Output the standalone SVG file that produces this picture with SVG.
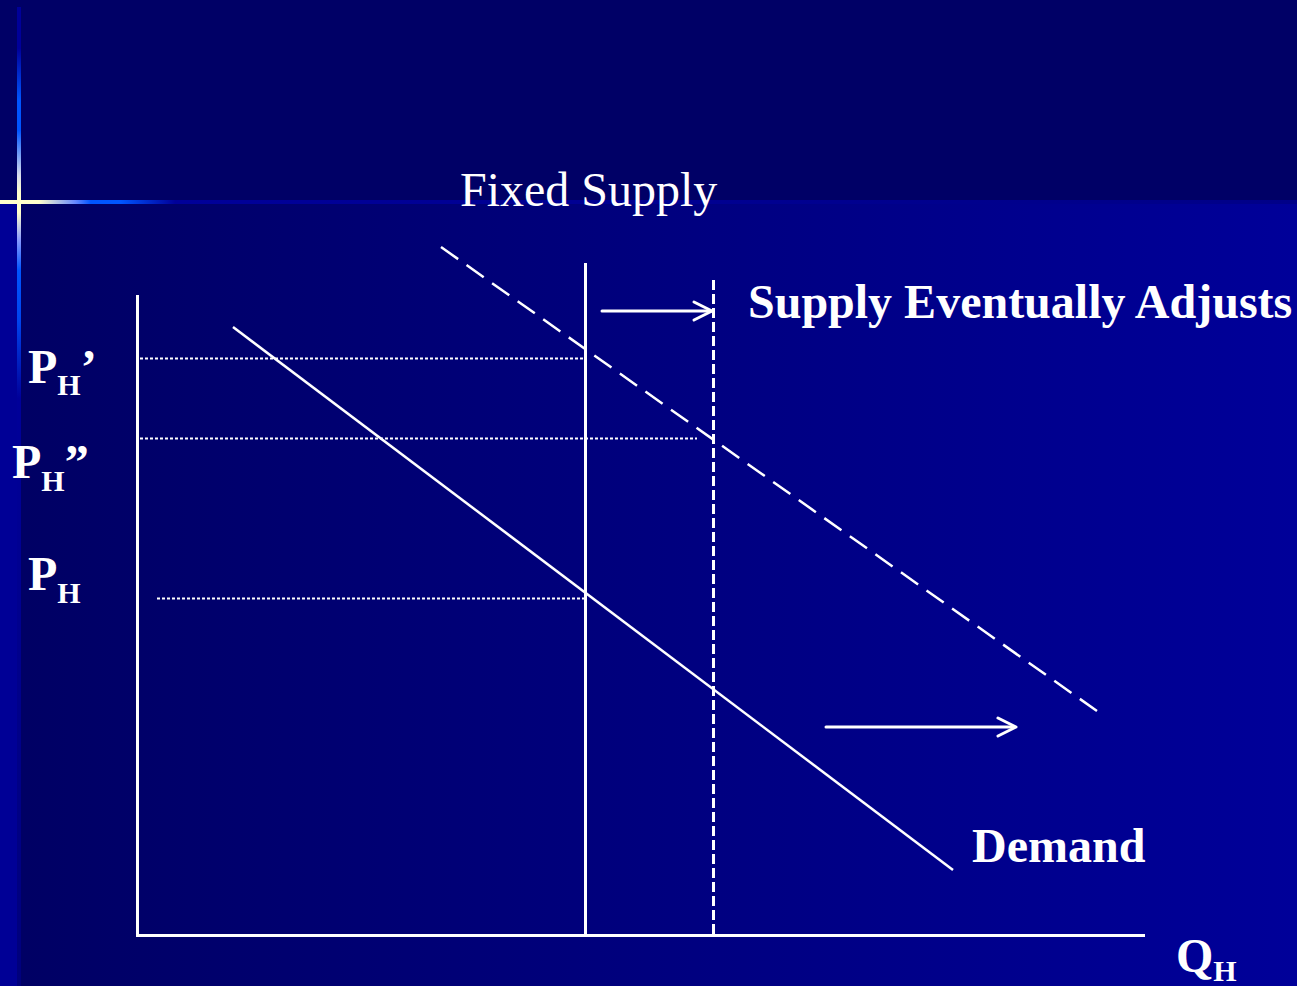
<svg xmlns="http://www.w3.org/2000/svg" width="1297" height="986" viewBox="0 0 1297 986">
  <defs>
    <linearGradient id="bodyFill" gradientUnits="userSpaceOnUse" x1="21" y1="0" x2="1297" y2="0">
      <stop offset="0" stop-color="#000064"/>
      <stop offset="1" stop-color="#000099"/>
    </linearGradient>
    <linearGradient id="vBar" gradientUnits="userSpaceOnUse" x1="0" y1="7" x2="0" y2="986">
      <stop offset="0" stop-color="#000099"/>
      <stop offset="0.042" stop-color="#000099"/>
      <stop offset="0.095" stop-color="#0055FF"/>
      <stop offset="0.126" stop-color="#0055FF"/>
      <stop offset="0.172" stop-color="#D8DCEE"/>
      <stop offset="0.19" stop-color="#FFFFCC"/>
      <stop offset="0.21" stop-color="#FFFFCC"/>
      <stop offset="0.238" stop-color="#8899FF"/>
      <stop offset="0.269" stop-color="#0055FF"/>
      <stop offset="0.32" stop-color="#0044EE"/>
      <stop offset="0.40" stop-color="#000099"/>
      <stop offset="1" stop-color="#00007C"/>
    </linearGradient>
    <linearGradient id="hBar" gradientUnits="userSpaceOnUse" x1="0" y1="0" x2="1297" y2="0">
      <stop offset="0" stop-color="#FFFFCC"/>
      <stop offset="0.03" stop-color="#FFFFCC"/>
      <stop offset="0.058" stop-color="#6688FF"/>
      <stop offset="0.07" stop-color="#0055FF"/>
      <stop offset="0.093" stop-color="#0055FF"/>
      <stop offset="0.135" stop-color="#000099"/>
      <stop offset="1" stop-color="#000088"/>
    </linearGradient>
    <style>
      .ln { stroke: #FFFFFF; fill: none; }
      .axis { stroke-width: 3; }
      .dot { stroke-width: 2.2; stroke-dasharray: 3 2; }
      .arrow { stroke-width: 3; stroke-linecap: round; stroke-linejoin: round; }
      .lbl { font-family: "Liberation Serif", "Times New Roman", serif; fill: #FFFFFF; font-size: 48px; }
      .b { font-weight: bold; }
      .sub { font-size: 30px; }
    </style>
  </defs>

  <!-- slide background -->
  <g id="background">
    <rect x="0" y="0" width="1297" height="986" fill="#000066"/>
    <rect x="21" y="202" width="1276" height="784" fill="url(#bodyFill)"/>
    <rect x="0" y="204" width="17" height="782" fill="#000096"/>
    <rect x="17" y="7" width="4" height="979" fill="url(#vBar)"/>
    <rect x="0" y="200" width="1297" height="4" fill="url(#hBar)"/>
    <rect x="17" y="200" width="4" height="4" fill="#FFFFCC"/>
  </g>

  <!-- axes -->
  <g id="axes" class="ln axis">
    <line x1="137.5" y1="295" x2="137.5" y2="936"/>
    <line x1="136" y1="935.5" x2="1145" y2="935.5"/>
  </g>

  <!-- curves and reference lines -->
  <g id="connectors" class="ln">
    <line id="fixed-supply" x1="585.5" y1="263" x2="585.5" y2="935" stroke-width="3"/>
    <line id="adjusted-supply" x1="713.5" y1="280" x2="713.5" y2="935" stroke-width="3" stroke-dasharray="10 4"/>
    <line id="demand" x1="233" y1="327" x2="953" y2="870" stroke-width="2.5"/>
    <line id="demand-shifted" x1="441" y1="247" x2="1097" y2="711" stroke-width="2.5" stroke-dasharray="21 10.3"/>
    <line class="dot" x1="140" y1="358.5" x2="585" y2="358.5"/>
    <line class="dot" x1="140" y1="438.5" x2="697" y2="438.5"/>
    <line class="dot" x1="157" y1="598.5" x2="585" y2="598.5"/>
    <g class="arrow">
      <line x1="602" y1="311" x2="711" y2="311"/>
      <polyline points="694,302 712,311 694,320"/>
      <line x1="826" y1="727" x2="1014" y2="727"/>
      <polyline points="998,718 1016,727 998,736"/>
    </g>
  </g>

  <!-- labels -->
  <g id="label-fixed-supply"><text class="lbl" x="460" y="206">Fixed Supply</text></g>
  <g id="label-supply-adjusts"><text class="lbl b" x="748" y="318">Supply Eventually Adjusts</text></g>
  <g id="label-demand"><text class="lbl b" x="972" y="862">Demand</text></g>
  <g id="label-ph1"><text class="lbl b" x="28" y="383">P<tspan class="sub" dy="12">H</tspan><tspan dy="-12">’</tspan></text></g>
  <g id="label-ph2"><text class="lbl b" x="12" y="478">P<tspan class="sub" dy="13">H</tspan><tspan dy="-13">”</tspan></text></g>
  <g id="label-ph"><text class="lbl b" x="28" y="590">P<tspan class="sub" dy="13">H</tspan></text></g>
  <g id="label-qh"><text class="lbl b" x="1176" y="972">Q<tspan class="sub" dy="9">H</tspan></text></g>
</svg>
